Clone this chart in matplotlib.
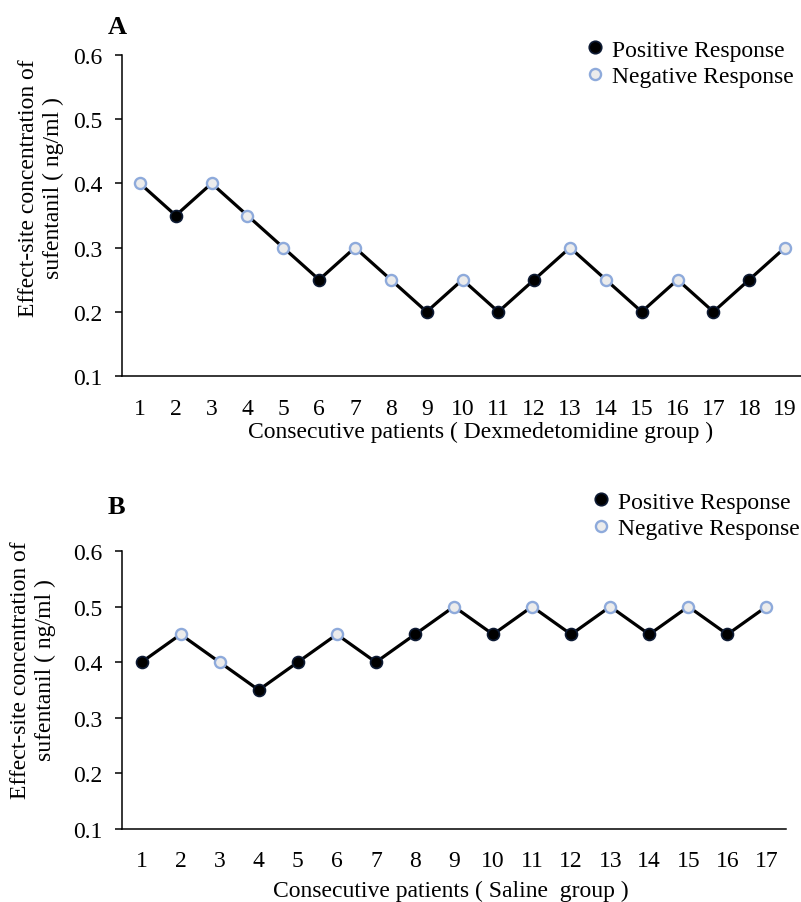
"""Up-and-down sequences of sufentanil effect-site concentration (panels A and B)."""
import matplotlib
matplotlib.use("Agg")
import matplotlib.pyplot as plt
from matplotlib.lines import Line2D
import numpy as np

plt.rcParams["font.family"] = ["Liberation Serif", "DejaVu Serif"]

# panel A: dexmedetomidine group
conc_a = [0.40, 0.35, 0.40, 0.35, 0.30, 0.25, 0.30, 0.25, 0.20, 0.25,
          0.20, 0.25, 0.30, 0.25, 0.20, 0.25, 0.20, 0.25, 0.30]
resp_a = ["N", "P", "N", "N", "N", "P", "N", "N", "P", "N",
          "P", "P", "N", "N", "P", "N", "P", "P", "N"]

# panel B: saline group
conc_b = [0.40, 0.45, 0.40, 0.35, 0.40, 0.45, 0.40, 0.45, 0.50, 0.45,
          0.50, 0.45, 0.50, 0.45, 0.50, 0.45, 0.50]
resp_b = ["P", "N", "N", "P", "P", "N", "P", "P", "N", "P",
          "N", "P", "N", "P", "N", "P", "N"]

y_ticks = [0.1, 0.2, 0.3, 0.4, 0.5, 0.6]
ylabel = "Effect-site concentration of\nsufentanil ( ng/ml )"
xlabel_a = "Consecutive patients ( Dexmedetomidine group )"
xlabel_b = "Consecutive patients ( Saline  group )"

FS = 17
POS_FACE, POS_EDGE = "#000000", "#0d1a33"
NEG_FACE, NEG_EDGE = "#ececec", "#8eaadb"

W, H = 801, 903
fig = plt.figure(figsize=(W / 100, H / 100), dpi=100)


def px_axes(left, top, right, bottom):
    return fig.add_axes([left / W, 1 - bottom / H, (right - left) / W, (bottom - top) / H])


def draw_panel(ax, conc, resp, xlabel, tickpad, labelpad):
    n = len(conc)
    x = np.arange(1, n + 1)
    conc = np.array(conc)
    pos = np.array([r == "P" for r in resp])
    ax.plot(x, conc, color="black", lw=2.3, zorder=2)
    ax.plot(x[pos], conc[pos], ls="none", marker="o", ms=8.6, mfc=POS_FACE,
            mec=POS_EDGE, mew=1.2, zorder=3)
    ax.plot(x[~pos], conc[~pos], ls="none", marker="o", ms=8.0, mfc=NEG_FACE,
            mec=NEG_EDGE, mew=1.7, zorder=3)
    ax.set_xlim(0.5, n + 0.5)
    ax.set_ylim(0.1, 0.6)
    ax.set_xticks(x)
    ax.set_yticks(y_ticks)
    ax.set_yticklabels([f"{v:.1f}" for v in y_ticks])
    for s in ("top", "right"):
        ax.spines[s].set_visible(False)
    for s in ("left", "bottom"):
        ax.spines[s].set_linewidth(1.1)
    ax.tick_params(axis="x", length=0, pad=tickpad, labelsize=FS)
    ax.tick_params(axis="y", length=5, width=1.1, direction="out", pad=9, labelsize=FS)
    ax.set_xlabel(xlabel, fontsize=FS, labelpad=labelpad)

    handles = [
        Line2D([], [], ls="none", marker="o", ms=9, mfc=POS_FACE, mec=POS_EDGE, mew=1.2),
        Line2D([], [], ls="none", marker="o", ms=8, mfc=NEG_FACE, mec=NEG_EDGE, mew=1.7),
    ]
    return handles


ax_a = px_axes(122, 56, 803, 377)
h = draw_panel(ax_a, conc_a, resp_a, xlabel_a, tickpad=15.5, labelpad=2)
ax_a.xaxis.label.set_x((481 - 122) / 681)
ax_a.legend(h, ["Positive Response", "Negative Response"], loc="upper left",
            bbox_to_anchor=(584 / W, 1 - 40 / H), bbox_transform=fig.transFigure,
            frameon=False, fontsize=FS, handlelength=0.9, handletextpad=0.3,
            borderpad=0, borderaxespad=0, labelspacing=0.22)
fig.text(41 / W, 1 - 188 / H, ylabel, rotation=90, ha="center", va="center",
         fontsize=FS, multialignment="center", linespacing=1.25)
fig.text(108 / W, 1 - 27 / H, "A", fontsize=FS + 2, fontweight="bold", va="center")

ax_b = px_axes(122, 552, 786, 830)
h = draw_panel(ax_b, conc_b, resp_b, xlabel_b, tickpad=15, labelpad=6.5)
ax_b.xaxis.label.set_x((451 - 122) / 664)
ax_b.legend(h, ["Positive Response", "Negative Response"], loc="upper left",
            bbox_to_anchor=(590 / W, 1 - 492 / H), bbox_transform=fig.transFigure,
            frameon=False, fontsize=FS, handlelength=0.9, handletextpad=0.3,
            borderpad=0, borderaxespad=0, labelspacing=0.22)
fig.text(33 / W, 1 - 670 / H, ylabel, rotation=90, ha="center", va="center",
         fontsize=FS, multialignment="center", linespacing=1.25)
fig.text(108 / W, 1 - 507 / H, "B", fontsize=FS + 2, fontweight="bold", va="center")

fig.savefig("out.png", dpi=100)
